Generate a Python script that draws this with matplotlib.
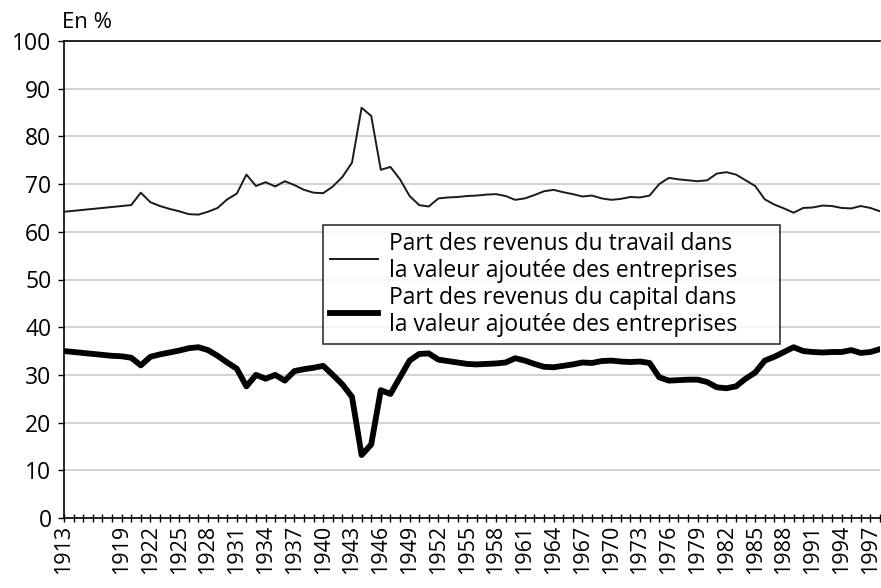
import numpy as np
import matplotlib.pyplot as plt

# years 1913 -> 1998
years = np.arange(1913, 1999)

# share of labour income in value added (%)
travail = [64.2, 64.4, 64.6, 64.8, 65.0, 65.2, 65.4,                      # 1913-1919
           65.6, 68.2, 66.2, 65.4, 64.8, 64.3, 63.7, 63.6, 64.2, 65.0,    # 1920s
           66.8, 68.0, 72.0, 69.6, 70.4, 69.5, 70.6, 69.8, 68.8, 68.2,    # 1930s
           68.1, 69.5, 71.5, 74.5, 86.0, 84.3, 73.0, 73.6, 71.0, 67.5,    # 1940s
           65.6, 65.3, 67.0, 67.2, 67.3, 67.5, 67.6, 67.8, 67.9, 67.5,    # 1950s
           66.7, 67.0, 67.7, 68.5, 68.8, 68.3, 67.9, 67.4, 67.6, 67.0,    # 1960s
           66.7, 66.9, 67.3, 67.2, 67.6, 70.0, 71.3, 71.0, 70.8, 70.6,    # 1970s
           70.8, 72.2, 72.5, 72.0, 70.8, 69.6, 66.8, 65.7, 64.9, 64.0,    # 1980s
           65.0, 65.1, 65.5, 65.4, 65.0, 64.9, 65.4, 65.0, 64.3]          # 1990-1998

# share of capital income in value added (%)
capital = [35.0, 34.8, 34.6, 34.4, 34.2, 34.0, 33.9,
           33.6, 32.0, 33.8, 34.3, 34.7, 35.1, 35.6, 35.8, 35.2, 34.0,
           32.6, 31.3, 27.6, 30.0, 29.2, 30.0, 28.8, 30.8, 31.2, 31.5,
           31.9, 30.0, 28.0, 25.4, 13.2, 15.4, 26.8, 26.0, 29.5, 33.0,
           34.4, 34.5, 33.2, 32.9, 32.6, 32.3, 32.2, 32.3, 32.4, 32.6,
           33.5, 33.0, 32.3, 31.7, 31.6, 31.9, 32.2, 32.6, 32.5, 32.9,
           33.0, 32.8, 32.7, 32.8, 32.5, 29.5, 28.8, 28.9, 29.0, 29.0,
           28.5, 27.4, 27.2, 27.6, 29.2, 30.5, 33.0, 33.8, 34.8, 35.8,
           35.0, 34.8, 34.7, 34.8, 34.8, 35.2, 34.6, 34.8, 35.4]

label_travail = "Part des revenus du travail dans\nla valeur ajoutée des entreprises"
label_capital = "Part des revenus du capital dans\nla valeur ajoutée des entreprises"

tick_years = list(range(1913, 1998, 3))
tick_labels = ['' if y == 1916 else str(y) for y in tick_years]

plt.rcParams['font.family'] = ['Open Sans', 'DejaVu Sans']

fig = plt.figure(figsize=(8.81, 5.88), dpi=100)
ax = fig.add_axes([64/881, 70/588, (880-64)/881, (518-41)/588])

ax.plot(years, travail, color='#1a1a1a', lw=1.4, label=label_travail)
ax.plot(years, capital, color='black', lw=4.2, label=label_capital)

ax.set_xlim(1913, 1998)
ax.set_ylim(0, 100)
ax.set_yticks(range(0, 101, 10))
ax.tick_params(axis='y', labelsize=16.5, length=4, width=1, pad=5)
ax.yaxis.grid(True, color='#cfcfcf', lw=1.3)
ax.set_axisbelow(True)

# year ticks
ax.set_xticks(tick_years)
ax.set_xticklabels(tick_labels, rotation=90, fontsize=15.5)
ax.set_xticks(years, minor=True)
ax.tick_params(axis='x', which='both', direction='inout', length=6, width=1, pad=2)

ax.spines['right'].set_visible(False)
for s in ['left', 'top', 'bottom']:
    ax.spines[s].set_color('black')
    ax.spines[s].set_linewidth(1.2)

fig.text(62/881, 1 - 22/588, "En %", fontsize=16, va='center', ha='left')

# legend box stretched to the width seen in the picture
leg = ax.legend(loc='upper left',
                bbox_to_anchor=(323/881, 1 - 339/588, (780-323)/881, 114/588),
                bbox_transform=fig.transFigure, mode='expand', fontsize=16.5,
                frameon=True, fancybox=False, handlelength=2.1, handletextpad=0.5,
                borderpad=0.3, labelspacing=0.1, borderaxespad=0)
leg.get_frame().set_edgecolor('black')
leg.get_frame().set_linewidth(1.2)

fig.savefig("out.png", dpi=100)
